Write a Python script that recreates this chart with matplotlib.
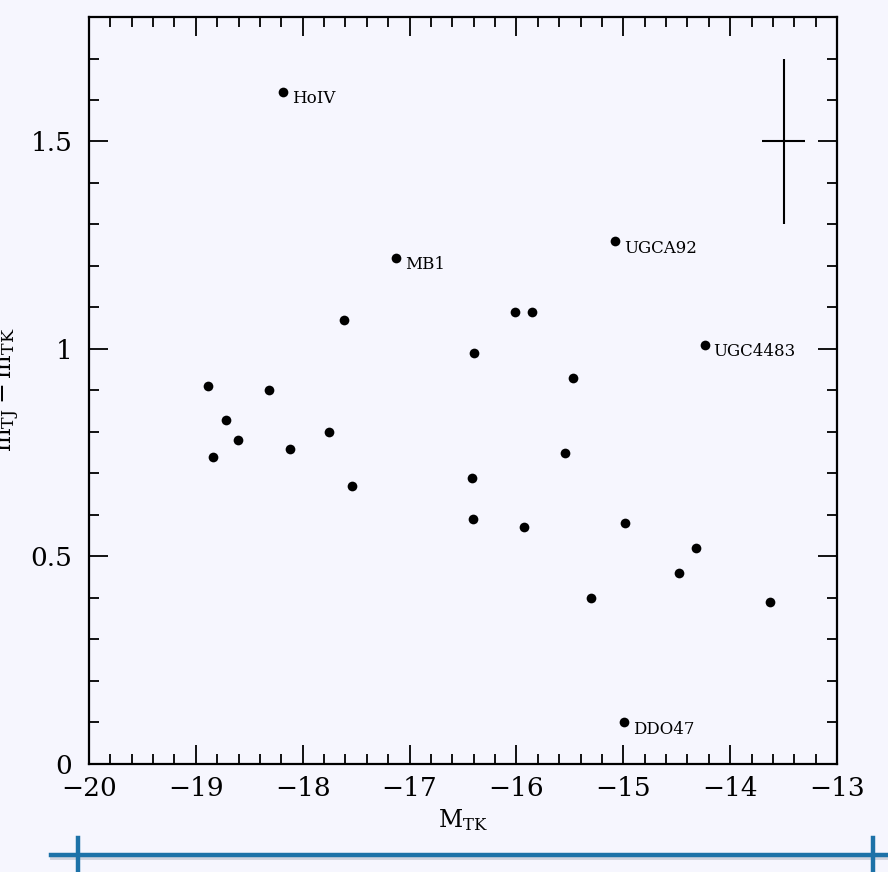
import matplotlib
matplotlib.use('Agg')
import matplotlib.pyplot as plt
from matplotlib.lines import Line2D
from matplotlib.ticker import MultipleLocator

# absolute K magnitude vs J-K colour, dwarf galaxies
mtk = [-18.18, -17.13, -15.08, -14.24, -14.99,
       -18.89, -18.72, -18.32, -18.61, -18.84, -18.12, -17.75, -17.61, -17.54,
       -16.40, -16.42, -16.41, -16.01, -15.85, -15.93, -15.47, -15.55, -15.30,
       -14.98, -14.48, -14.32, -13.63]
color_jk = [1.62, 1.22, 1.26, 1.01, 0.10,
            0.91, 0.83, 0.90, 0.78, 0.74, 0.76, 0.80, 1.07, 0.67,
            0.99, 0.69, 0.59, 1.09, 1.09, 0.57, 0.93, 0.75, 0.40,
            0.58, 0.46, 0.52, 0.39]
names = ['HoIV', 'MB1', 'UGCA92', 'UGC4483', 'DDO47']

xticks = [-20, -19, -18, -17, -16, -15, -14, -13]
yticks = [0, 0.5, 1, 1.5]
ytick_labels = ['0', '0.5', '1', '1.5']

# typical error bar shown in the corner
err_x, err_y = -13.5, 1.5
err_dx, err_dy = 0.2, 0.2

bg = '#f6f6fe'
plt.rcParams['font.family'] = 'DejaVu Serif'
plt.rcParams['mathtext.fontset'] = 'dejavuserif'

fig = plt.figure(figsize=(8.88, 8.72), dpi=100, facecolor=bg)
ax = fig.add_axes([0.1002, 0.1239, 0.8424, 0.8566])
ax.set_facecolor(bg)

ax.plot(mtk, color_jk, 'o', color='black', ms=7, mew=0)

for i, nm in enumerate(names):
    ax.annotate(nm, (mtk[i], color_jk[i]), xytext=(6.5, -5), textcoords='offset points',
                ha='left', va='center', fontsize=12)

ax.errorbar([err_x], [err_y], xerr=[err_dx], yerr=[err_dy], fmt='none',
            ecolor='black', elinewidth=1.5, capsize=0)

ax.set_xlim(-20, -13)
ax.set_ylim(0, 1.8)
ax.set_xticks(xticks)
ax.set_xticklabels([str(v).replace('-', '\u2212') for v in xticks])
ax.set_yticks(yticks)
ax.set_yticklabels(ytick_labels)
ax.xaxis.set_minor_locator(MultipleLocator(0.2))
ax.yaxis.set_minor_locator(MultipleLocator(0.1))
ax.tick_params(which='both', direction='in', top=True, right=True, width=1.3,
               labelsize=19, color='black')
ax.tick_params(which='major', length=14)
ax.tick_params(which='minor', length=7)
ax.tick_params(axis='x', pad=9)
ax.tick_params(axis='y', pad=12)
for sp in ax.spines.values():
    sp.set_linewidth(1.6)

ax.set_xlabel(r'$\mathrm{M_{TK}}$', fontsize=17, labelpad=4)
# y label sits partly off the left edge, as in the original
fig.text(0.010, 0.553, r'$\mathrm{m_{TJ} - m_{TK}}$', rotation=90, fontsize=18,
         ha='center', va='center')

# blue bar at the bottom
fig.add_artist(Line2D([0.058, 1.0], [0.017, 0.017], color='#b8bcc8', lw=3.5, alpha=0.6))
fig.add_artist(Line2D([0.057, 1.0], [0.0195, 0.0195], color='#1d72a8', lw=3.2))
fig.add_artist(Line2D([0.088, 0.088], [0.0, 0.039], color='#1d72a8', lw=3.2))
fig.add_artist(Line2D([0.983, 0.983], [0.0, 0.039], color='#1d72a8', lw=3.2))

fig.savefig('out.png', dpi=100, facecolor=bg)
